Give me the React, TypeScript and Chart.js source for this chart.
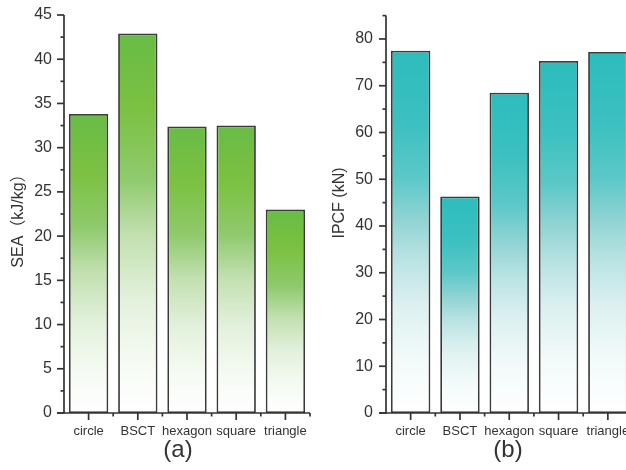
import React, { useEffect, useRef } from "react";
import { Chart, registerables } from "chart.js";

Chart.register(...registerables);

const categories = ["circle", "BSCT", "hexagon", "square", "triangle"];
const seaValues = [33.8, 42.9, 32.4, 32.5, 23.0];
const ipcfValues = [77.5, 46.3, 68.5, 75.3, 77.2];
const seaTicks = [0, 5, 10, 15, 20, 25, 30, 35, 40, 45];
const ipcfTicks = [0, 10, 20, 30, 40, 50, 60, 70, 80];

const greenStops: [number, string][] = [
  [0, "#68bc45"],
  [0.2, "#7cc142"],
  [0.38, "#8fca6d"],
  [0.53, "#c2e0b0"],
  [0.7, "#e3f1dc"],
  [0.85, "#f4faf1"],
  [1, "#ffffff"],
];
const tealStops: [number, string][] = [
  [0, "#2dbcbc"],
  [0.2, "#3cc0c0"],
  [0.35, "#5cc8c8"],
  [0.47, "#92d4d4"],
  [0.57, "#b8e2e2"],
  [0.7, "#dcf0f0"],
  [0.85, "#f2fafa"],
  [1, "#ffffff"],
];

const FONT = "'Liberation Sans', Arial, 'Noto Sans CJK SC', sans-serif";
const AXIS = "#333333";

type Cfg = {
  values: number[];
  max: number;
  step: number;
  ticks: number[];
  stops: [number, string][];
  yWidth: number;
  padRight: number;
  tickPad: number;
  yTitle: string;
  yTitleX: number;
  yTitleY: number;
  xTitle: string;
  xTitleX: number;
};

function makeGradient(ctx: any, stops: [number, string][]) {
  const chart = ctx.chart;
  if (!chart.chartArea || ctx.raw === undefined) return stops[0][1];
  const y = chart.scales.y;
  const top = y.getPixelForValue(ctx.raw);
  const bottom = y.getPixelForValue(0);
  const g = chart.ctx.createLinearGradient(0, top, 0, bottom);
  stops.forEach(([o, c]) => g.addColorStop(o, c));
  return g;
}

function axesPlugin(cfg: Cfg) {
  return {
    id: "customAxes",
    afterDatasetsDraw(chart: any) {
      const c = chart.ctx;
      const a = chart.chartArea;
      const ys = chart.scales.y;
      const xs = chart.scales.x;
      c.save();
      c.strokeStyle = AXIS;
      c.lineWidth = 1.7;
      c.lineCap = "butt";
      // y axis line
      c.beginPath();
      c.moveTo(a.left, a.top);
      c.lineTo(a.left, a.bottom + 0.85);
      c.stroke();
      // x axis line
      c.beginPath();
      c.moveTo(a.left - 7, a.bottom);
      c.lineTo(a.right, a.bottom);
      c.stroke();
      // y ticks
      for (let v = 0; v <= cfg.max + 1e-9; v += cfg.step / 2) {
        const p = ys.getPixelForValue(v);
        const major = Math.abs(v / cfg.step - Math.round(v / cfg.step)) < 1e-6;
        c.beginPath();
        c.moveTo(a.left - (major ? 7 : 3.5), p);
        c.lineTo(a.left, p);
        c.stroke();
      }
      // x ticks at category centres
      const n = categories.length;
      for (let i = 0; i < n; i++) {
        const p = xs.getPixelForValue(i);
        c.beginPath();
        c.moveTo(p, a.bottom);
        c.lineTo(p, a.bottom + 7);
        c.stroke();
      }
      // minor x ticks at category boundaries
      for (let i = 1; i <= n; i++) {
        const px = i < n ? (xs.getPixelForValue(i - 1) + xs.getPixelForValue(i)) / 2 : a.right;
        c.beginPath();
        c.moveTo(px, a.bottom);
        c.lineTo(px, a.bottom + 3.5);
        c.stroke();
      }
      // titles
      c.fillStyle = AXIS;
      c.textAlign = "center";
      c.textBaseline = "middle";
      c.font = `16px ${FONT}`;
      c.save();
      c.translate(cfg.yTitleX, cfg.yTitleY);
      c.rotate(-Math.PI / 2);
      c.fillText(cfg.yTitle, 0, 0);
      c.restore();
      c.font = `24px ${FONT}`;
      c.fillText(cfg.xTitle, cfg.xTitleX, 450);
      c.restore();
    },
  };
}

function BarPanel({ cfg, left }: { cfg: Cfg; left: number }) {
  const ref = useRef<HTMLCanvasElement | null>(null);
  useEffect(() => {
    if (!ref.current) return;
    const chart = new Chart(ref.current, {
      type: "bar",
      data: {
        labels: categories,
        datasets: [
          {
            data: cfg.values,
            backgroundColor: (ctx: any) => makeGradient(ctx, cfg.stops),
            borderColor: "#3a3a3a",
            borderWidth: 1.8,
            borderSkipped: false,
            barPercentage: 0.8,
            categoryPercentage: 1,
          },
        ],
      },
      options: {
        animation: false,
        responsive: false,
        events: [],
        layout: { padding: { left: 0, right: cfg.padRight, top: 15, bottom: 0 } },
        plugins: { legend: { display: false }, tooltip: { enabled: false } },
        scales: {
          x: {
            type: "category",
            offset: true,
            grid: { display: false, drawTicks: true, tickLength: 7 },
            border: { display: false },
            ticks: { color: AXIS, font: { size: 13, family: FONT }, padding: 4, maxRotation: 0, autoSkip: false },
            afterFit: (s: any) => {
              s.height = 57;
            },
          },
          y: {
            type: "linear",
            min: 0,
            max: cfg.max,
            grid: { display: false, drawTicks: true, tickLength: 7 },
            border: { display: false },
            ticks: { color: AXIS, font: { size: 16, family: FONT }, padding: cfg.tickPad, stepSize: cfg.step },
            afterBuildTicks: (s: any) => {
              s.ticks = cfg.ticks.map((v) => ({ value: v }));
            },
            afterFit: (s: any) => {
              s.width = cfg.yWidth;
            },
          },
        },
      },
      plugins: [axesPlugin(cfg)],
    } as any);
    return () => chart.destroy();
  }, []);
  return (
    <div style={{ position: "absolute", left, top: 0, width: 320, height: 470 }}>
      <canvas ref={ref} width={320} height={470} style={{ display: "block", width: 320, height: 470 }} />
    </div>
  );
}

const cfgA: Cfg = {
  values: seaValues,
  max: 45,
  step: 5,
  ticks: seaTicks,
  stops: greenStops,
  yWidth: 64,
  padRight: 10,
  tickPad: 5,
  yTitle: "SEA（kJ/kg）",
  yTitleX: 19,
  yTitleY: 217,
  xTitle: "(a)",
  xTitleX: 178,
};

const cfgB: Cfg = {
  values: ipcfValues,
  max: 85,
  step: 10,
  ticks: ipcfTicks,
  stops: tealStops,
  yWidth: 66,
  padRight: 7.5,
  tickPad: 6,
  yTitle: "IPCF (kN)",
  yTitleX: 20,
  yTitleY: 203,
  xTitle: "(b)",
  xTitleX: 188,
};

export default function App() {
  return (
    <div style={{ position: "fixed", left: 0, top: 0, width: 626, height: 470, overflow: "hidden", background: "#ffffff" }}>
      <BarPanel cfg={cfgA} left={0} />
      <BarPanel cfg={cfgB} left={320} />
    </div>
  );
}
